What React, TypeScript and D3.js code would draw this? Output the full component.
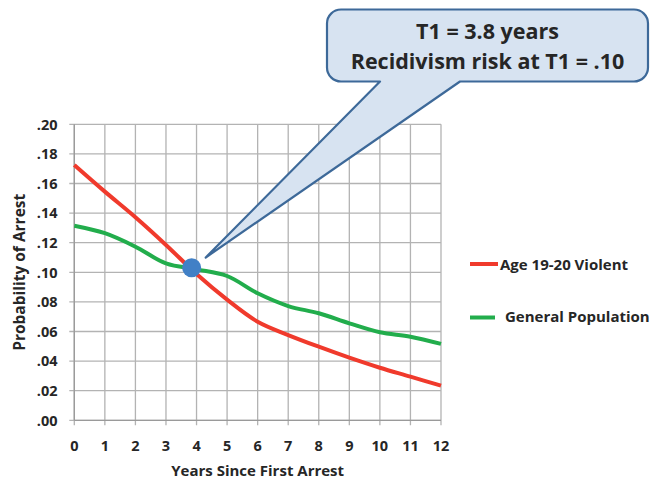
import React from "react";
import * as d3 from "d3";

const years = [0, 1, 2, 3, 4, 5, 6, 7, 8, 9, 10, 11, 12];
const violent = [0.1725, 0.1545, 0.1372, 0.1185, 0.0988, 0.0815, 0.0666, 0.0576, 0.0497, 0.0423, 0.0355, 0.0295, 0.0234];
const general = [0.1315, 0.1264, 0.1173, 0.106, 0.102, 0.0975, 0.0858, 0.0772, 0.0723, 0.0655, 0.0595, 0.0565, 0.0516];
const yTicks = [0, 0.02, 0.04, 0.06, 0.08, 0.1, 0.12, 0.14, 0.16, 0.18, 0.2];
const seriesNames = ["Age 19-20 Violent", "General Population"];
const t1 = { x: 3.84, y: 0.1031 };
const calloutTip = { x: 4.3, y: 0.11 };
const calloutLines = ["T1 = 3.8 years", "Recidivism risk at T1 = .10"];

const RED = "#f03a2c";
const GREEN = "#22ad4c";
const FONT = "'Open Sans', Lato, sans-serif";
const TXT = "#262626";

export default function App() {
  const W = 654, H = 481;
  const x = d3.scaleLinear().domain([0, 12]).range([74.3, 441]);
  const y = d3.scaleLinear().domain([0, 0.2]).range([420.3, 124.3]);
  const line = d3
    .line<number>()
    .x((_, i) => x(years[i]))
    .y((d) => y(d))
    .curve(d3.curveCatmullRom.alpha(0.5));

  const fmt = (v: number) => "." + String(Math.round(v * 100)).padStart(2, "0");

  // callout
  const bx0 = 327, bx1 = 648, by0 = 9.5, by1 = 81.5, r = 14;
  const tx = x(calloutTip.x), ty = y(calloutTip.y);
  const p1 = 460, p2 = 380;
  const calloutPath = `M${bx0 + r},${by0} H${bx1 - r} A${r},${r} 0 0 1 ${bx1},${by0 + r} V${by1 - r} A${r},${r} 0 0 1 ${bx1 - r},${by1} H${p1} L${tx},${ty} L${p2},${by1} H${bx0 + r} A${r},${r} 0 0 1 ${bx0},${by1 - r} V${by0 + r} A${r},${r} 0 0 1 ${bx0 + r},${by0} Z`;
  const cx = (bx0 + bx1) / 2;

  return (
    <svg width={W} height={H} style={{ position: "absolute", left: 0, top: 0, background: "#fff" }} fontFamily={FONT}>
      {/* grid */}
      {years.map((v) => (
        <line key={"vx" + v} x1={x(v)} x2={x(v)} y1={y(0.2)} y2={y(0) + 5} stroke="#b3b3b3" strokeWidth={1.3} />
      ))}
      {yTicks.map((v) => (
        <line key={"hy" + v} x1={x(0) - 5} x2={x(12)} y1={y(v)} y2={y(v)} stroke="#b3b3b3" strokeWidth={1.3} />
      ))}
      <line x1={x(0)} x2={x(0)} y1={y(0.2)} y2={y(0)} stroke="#9a9a9a" strokeWidth={1.3} />
      <line x1={x(0)} x2={x(12)} y1={y(0)} y2={y(0)} stroke="#9a9a9a" strokeWidth={1.3} />

      {/* tick labels */}
      {yTicks.map((v) => (
        <text key={"yl" + v} x={57.5} y={y(v)} dy="0.36em" textAnchor="end" fontSize={14.5} fontWeight={700} fill={TXT}>
          {fmt(v)}
        </text>
      ))}
      {years.map((v) => (
        <text key={"xl" + v} x={x(v)} y={451} textAnchor="middle" fontSize={14.5} fontWeight={700} fill={TXT}>
          {v}
        </text>
      ))}
      <text x={(x(0) + x(12)) / 2} y={476} textAnchor="middle" fontSize={15} fontWeight={700} fill={TXT}>
        Years Since First Arrest
      </text>
      <text
        transform={`translate(25,${(y(0) + y(0.2)) / 2}) rotate(-90)`}
        textAnchor="middle"
        fontSize={15.5}
        fontWeight={700}
        fill={TXT}
      >
        Probability of Arrest
      </text>

      {/* lines */}
      <path d={line(general) || ""} fill="none" stroke={GREEN} strokeWidth={4} />
      <path d={line(violent) || ""} fill="none" stroke={RED} strokeWidth={4} />

      {/* callout */}
      <path d={calloutPath} fill="#d7e3f1" stroke="#3d6999" strokeWidth={2.2} strokeLinejoin="round" />
      <text x={cx} y={38.5} textAnchor="middle" fontSize={21.5} fontWeight={700} fill={TXT}>
        {calloutLines[0]}
      </text>
      <text x={cx} y={69} textAnchor="middle" fontSize={21.5} fontWeight={700} fill={TXT}>
        {calloutLines[1]}
      </text>

      {/* T1 dot */}
      <circle cx={x(t1.x)} cy={y(t1.y)} r={9.5} fill="#4180c6" />

      {/* legend */}
      <line x1={470} x2={498} y1={264} y2={264} stroke={RED} strokeWidth={4} />
      <text x={500} y={269.5} fontSize={15} fontWeight={700} fill={TXT}>
        {seriesNames[0]}
      </text>
      <line x1={470} x2={495} y1={317.5} y2={317.5} stroke={GREEN} strokeWidth={4} />
      <text x={505} y={322} fontSize={15} fontWeight={700} fill={TXT}>
        {seriesNames[1]}
      </text>
    </svg>
  );
}
